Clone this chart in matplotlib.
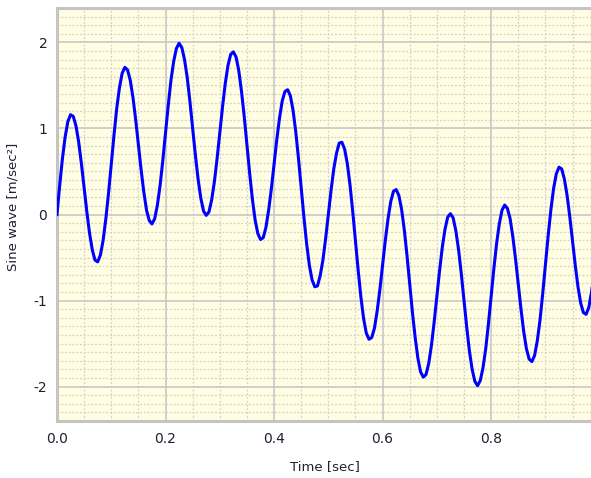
import numpy as np
import matplotlib
matplotlib.use("Agg")
import matplotlib.pyplot as plt
from matplotlib.ticker import MultipleLocator

plt.rcParams["axes.unicode_minus"] = False

sample_step = 0.005
wave = [
    0.00, 0.34, 0.65, 0.90, 1.08, 1.16, 1.14, 1.03, 0.84, 0.59,
    0.31, 0.03, -0.22, -0.41, -0.53, -0.55, -0.47, -0.30, -0.05, 0.25,
    0.59, 0.92, 1.23, 1.47, 1.64, 1.71, 1.68, 1.56, 1.36, 1.10,
    0.81, 0.52, 0.26, 0.05, -0.07, -0.11, -0.05, 0.11, 0.34, 0.63,
    0.95, 1.27, 1.56, 1.78, 1.93, 1.99, 1.94, 1.80, 1.59, 1.31,
    1.00, 0.69, 0.41, 0.19, 0.04, -0.01, 0.03, 0.17, 0.38, 0.65,
    0.95, 1.25, 1.52, 1.73, 1.86, 1.89, 1.83, 1.67, 1.43, 1.14,
    0.81, 0.48, 0.18, -0.06, -0.22, -0.29, -0.27, -0.15, 0.05, 0.30,
    0.59, 0.87, 1.12, 1.32, 1.43, 1.45, 1.38, 1.21, 0.96, 0.65,
    0.31, -0.03, -0.34, -0.59, -0.76, -0.84, -0.83, -0.71, -0.53, -0.28,
    0.00, 0.28, 0.53, 0.71, 0.83, 0.84, 0.76, 0.59, 0.34, 0.03,
    -0.31, -0.65, -0.96, -1.21, -1.38, -1.45, -1.43, -1.32, -1.12, -0.87,
    -0.59, -0.30, -0.05, 0.15, 0.27, 0.29, 0.22, 0.06, -0.18, -0.48,
    -0.81, -1.14, -1.43, -1.67, -1.83, -1.89, -1.86, -1.73, -1.52, -1.25,
    -0.95, -0.65, -0.38, -0.17, -0.03, 0.01, -0.04, -0.19, -0.41, -0.69,
    -1.00, -1.31, -1.59, -1.80, -1.94, -1.99, -1.93, -1.78, -1.56, -1.27,
    -0.95, -0.63, -0.34, -0.11, 0.05, 0.11, 0.07, -0.05, -0.26, -0.52,
    -0.81, -1.10, -1.36, -1.56, -1.68, -1.71, -1.64, -1.47, -1.23, -0.92,
    -0.59, -0.25, 0.05, 0.30, 0.47, 0.55, 0.53, 0.41, 0.22, -0.03,
    -0.31, -0.59, -0.84, -1.03, -1.14, -1.16, -1.08, -0.90, -0.65, -0.34,
]
time = np.arange(len(wave)) * sample_step

x_ticks = [0.0, 0.2, 0.4, 0.6, 0.8]
y_ticks = [-2, -1, 0, 1, 2]

fig = plt.figure(figsize=(5.91, 4.78), dpi=100)
ax = fig.add_axes([57 / 591, 57 / 478, 1 - 57 / 591, 413 / 478])
ax.set_facecolor("#fffde2")

ax.plot(time, wave, color="#0000ff", linewidth=2.2, zorder=3)

ax.set_xlim(0, 0.984)
ax.set_ylim(-2.4, 2.4)
ax.set_xticks(x_ticks)
ax.set_xticklabels(["%.1f" % v for v in x_ticks])
ax.set_yticks(y_ticks)
ax.xaxis.set_minor_locator(MultipleLocator(0.05))
ax.yaxis.set_minor_locator(MultipleLocator(0.1))

ax.grid(which="major", color="#c8c8c8", linewidth=1.2, linestyle="-")
ax.grid(which="minor", color="#d2d2c8", linewidth=0.9, linestyle=(0, (1.5, 1.5)))
ax.set_axisbelow(True)

ax.tick_params(which="both", length=0)
ax.tick_params(axis="x", pad=8, labelsize=10, labelcolor="#202030")
ax.tick_params(axis="y", pad=7, labelsize=10, labelcolor="#202030")

for side in ["left", "top", "bottom"]:
    ax.spines[side].set_color("#c4c4c4")
    ax.spines[side].set_linewidth(2.2)
ax.spines["right"].set_visible(False)

ax.set_xlabel("Time [sec]", fontsize=9.5, color="#202030")
ax.set_ylabel("Sine wave [m/sec²]", fontsize=9.5, color="#202030")
ax.xaxis.set_label_coords(0.502, -0.111)
ax.yaxis.set_label_coords(-0.0824, 0.518)
ax.xaxis.label.set_va("center")
ax.yaxis.label.set_va("center")

fig.savefig("out.png", dpi=100)
